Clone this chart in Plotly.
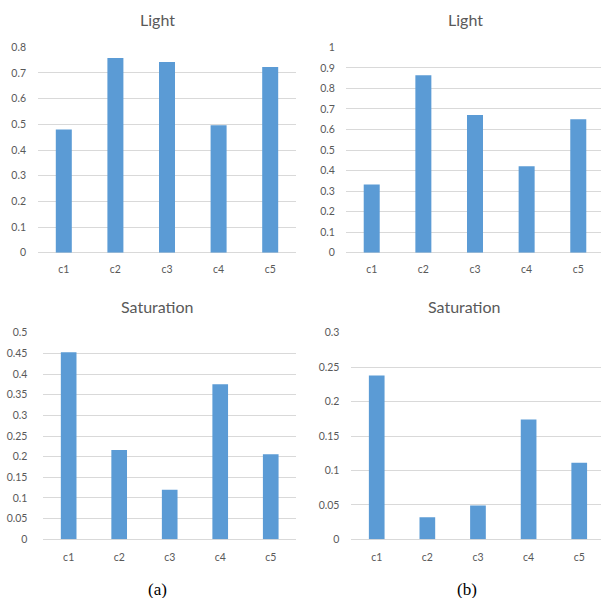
import plotly.graph_objects as go

categories = ["c1", "c2", "c3", "c4", "c5"]
light_a = [0.48, 0.758, 0.743, 0.496, 0.723]
sat_a = [0.453, 0.216, 0.120, 0.375, 0.206]
light_b = [0.332, 0.864, 0.671, 0.421, 0.650]
sat_b = [0.238, 0.032, 0.049, 0.174, 0.111]

W, H = 601, 598
BAR = "#5B9BD5"
GRID = "#D9D9D9"
TXT = "#595959"
FONT = "Lato"

def xd(a, b):
    return [a / W, min(b / W, 1.0)]

def yd(top, bottom):
    return [1 - bottom / H, 1 - top / H]

panels = [
    # values, axis id, x domain, y domain, y max, dtick, x range end, y label standoff, x label standoff
    (light_a, "", xd(38, 296), yd(47.3, 252.7), 0.8, 0.1, 4.5, 11, 9),
    (light_b, "2", xd(345.9, 601), yd(47.3, 252.7), 1.0, 0.1, 4.44, 10, 9),
    (sat_a, "3", xd(43.4, 296), yd(332.7, 539.3), 0.5, 0.05, 4.5, 15, 10),
    (sat_b, "4", xd(351.4, 601), yd(332.7, 539.3), 0.3, 0.05, 4.43, 11, 10),
]

fig = go.Figure()
layout = dict(
    width=W, height=H,
    margin=dict(l=0, r=0, t=0, b=0, autoexpand=False),
    paper_bgcolor="white", plot_bgcolor="white",
    showlegend=False,
    font=dict(family=FONT, color=TXT, size=10),
)

for vals, aid, dx, dy, ymax, dt, xend, ysd, xsd in panels:
    fig.add_trace(go.Bar(
        x=categories, y=vals, width=0.31,
        marker=dict(color=BAR, line=dict(width=0)),
        xaxis="x" + aid, yaxis="y" + aid,
    ))
    layout["xaxis" + aid] = dict(
        domain=dx, anchor="y" + aid, range=[-0.5, xend], automargin=False,
        showgrid=False, zeroline=False, showline=False,
        ticks="", ticklabelstandoff=xsd,
        tickfont=dict(size=10.5, color=TXT, family=FONT),
        fixedrange=True,
    )
    layout["yaxis" + aid] = dict(
        domain=dy, anchor="x" + aid, range=[0, ymax * 1.0001], dtick=dt, tick0=0,
        automargin=False,
        showgrid=True, gridcolor=GRID, gridwidth=1,
        zeroline=True, zerolinecolor=GRID, zerolinewidth=1,
        showline=False, ticks="", ticklabelstandoff=ysd,
        tickfont=dict(size=10.5, color=TXT, family=FONT),
        fixedrange=True,
    )

annotations = [
    dict(text="Light", x=157 / W, y=1 - 20 / H),
    dict(text="Light", x=465 / W, y=1 - 20 / H),
    dict(text="Saturation", x=157 / W, y=1 - 306 / H),
    dict(text="Saturation", x=464 / W, y=1 - 306 / H),
]
anns = []
for a in annotations:
    anns.append(dict(text=a["text"], x=a["x"], y=a["y"], xref="paper", yref="paper",
                     xanchor="center", yanchor="middle", showarrow=False,
                     font=dict(family=FONT, size=16, color=TXT)))
for lab, x in [("(a)", 157), ("(b)", 467)]:
    anns.append(dict(text=lab, x=x / W, y=1 - 589 / H, xref="paper", yref="paper",
                     xanchor="center", yanchor="middle", showarrow=False,
                     font=dict(family="Liberation Serif", size=17, color="black")))
layout["annotations"] = anns

fig.update_layout(**layout)
fig.write_html("out.html",
               config={"displayModeBar": False, "staticPlot": True},
               post_script="document.body.style.margin='0px';document.body.style.overflow='hidden';")
